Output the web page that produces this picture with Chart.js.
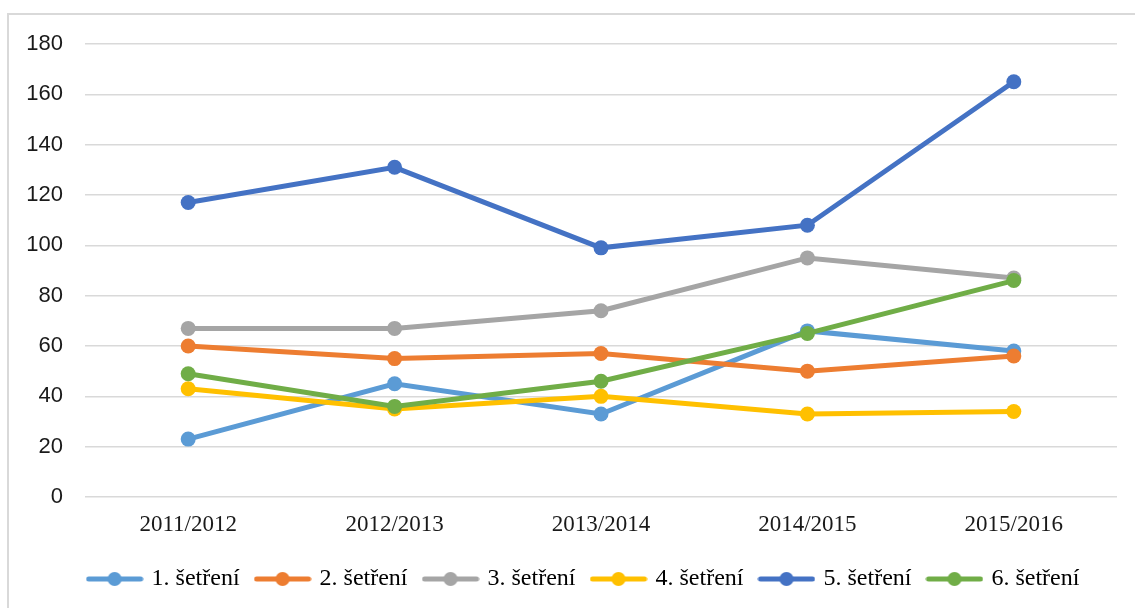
<!DOCTYPE html>
<html>
<head>
<meta charset="utf-8">
<script src="https://cdn.jsdelivr.net/npm/chart.js@4"></script>
<style>
  html, body { margin: 0; padding: 0; background: #fff; }
  #wrap { width: 1135px; height: 608px; }
</style>
</head>
<body>
<div id="wrap"><canvas id="chart" width="1135" height="608"></canvas></div>
<script>
// data
const years = ["2011/2012", "2012/2013", "2013/2014", "2014/2015", "2015/2016"];
const seriesNames = ["1. šetření", "2. šetření", "3. šetření", "4. šetření", "5. šetření", "6. šetření"];
const s1 = [23, 45, 33, 66, 58];
const s2 = [60, 55, 57, 50, 56];
const s3 = [67, 67, 74, 95, 87];
const s4 = [43, 35, 40, 33, 34];
const s5 = [117, 131, 99, 108, 165];
const s6 = [49, 36, 46, 65, 86];
const colors = ["#5B9BD5", "#ED7D31", "#A5A5A5", "#FFC000", "#4472C4", "#70AD47"];
const yTicks = [0, 20, 40, 60, 80, 100, 120, 140, 160, 180];

const allSeries = [s1, s2, s3, s4, s5, s6];

// small "line with dot" picture for legend entries
function legendMarker(color) {
  const c = document.createElement("canvas");
  c.width = 58;
  c.height = 16;
  const g = c.getContext("2d");
  g.strokeStyle = color;
  g.lineWidth = 5;
  g.lineCap = "round";
  g.beginPath();
  g.moveTo(3, 8);
  g.lineTo(55, 8);
  g.stroke();
  g.fillStyle = color;
  g.beginPath();
  g.arc(29, 8, 7, 0, Math.PI * 2);
  g.fill();
  return c;
}

const datasets = allSeries.map((vals, i) => ({
  label: seriesNames[i],
  data: vals,
  borderColor: colors[i],
  backgroundColor: colors[i],
  borderWidth: 5,
  pointRadius: 7.5,
  pointHoverRadius: 7.5,
  pointBackgroundColor: colors[i],
  pointBorderWidth: 0,
  pointStyle: "circle",
  tension: 0,
  order: allSeries.length - i // later series drawn on top
}));

const frame = {
  id: "frame",
  beforeDraw(chart) {
    const c = chart.ctx;
    c.save();
    c.fillStyle = "#fff";
    c.fillRect(0, 0, chart.width, chart.height);
    c.strokeStyle = "#d9d9d9";
    c.lineWidth = 2;
    c.beginPath();
    c.moveTo(8, chart.height);
    c.lineTo(8, 14);
    c.lineTo(chart.width, 14);
    c.stroke();
    c.restore();
  },
  // legend sits a little right of centre in the original
  afterLayout(chart) {
    if (chart.legend) chart.legend.left += 34;
  }
};

new Chart(document.getElementById("chart"), {
  type: "line",
  data: { labels: years, datasets: datasets },
  plugins: [frame],
  options: {
    responsive: false,
    animation: false,
    layout: { padding: { top: 44, left: 18, right: 18, bottom: 7 } },
    scales: {
      x: {
        offset: true,
        grid: { display: false, drawTicks: false },
        border: { display: false },
        ticks: {
          padding: 14,
          color: "#1a1a1a",
          font: { family: "'Liberation Serif', 'Times New Roman', serif", size: 23 }
        },
        afterFit: scale => { scale.height = 52; }
      },
      y: {
        min: 0,
        max: 180,
        afterBuildTicks: scale => { scale.ticks = yTicks.map(v => ({ value: v })); },
        grid: { color: "#d9d9d9", lineWidth: 1.5, drawTicks: false },
        border: { display: false },
        ticks: {
          padding: 22,
          color: "#1a1a1a",
          font: { family: "'Liberation Sans', Arial, sans-serif", size: 22 }
        },
        afterFit: scale => { scale.width = 67; }
      }
    },
    plugins: {
      tooltip: { enabled: false },
      legend: {
        position: "bottom",
        labels: {
          usePointStyle: true,
          pointStyleWidth: 50,
          padding: 18,
          color: "#1a1a1a",
          font: { family: "'Liberation Serif', 'Times New Roman', serif", size: 24 },
          generateLabels: chart => chart.data.datasets.map((d, i) => ({
            text: d.label,
            fillStyle: d.borderColor,
            strokeStyle: d.borderColor,
            lineWidth: 0,
            pointStyle: legendMarker(d.borderColor),
            hidden: false,
            datasetIndex: i
          }))
        }
      }
    }
  }
});
</script>
</body>
</html>
